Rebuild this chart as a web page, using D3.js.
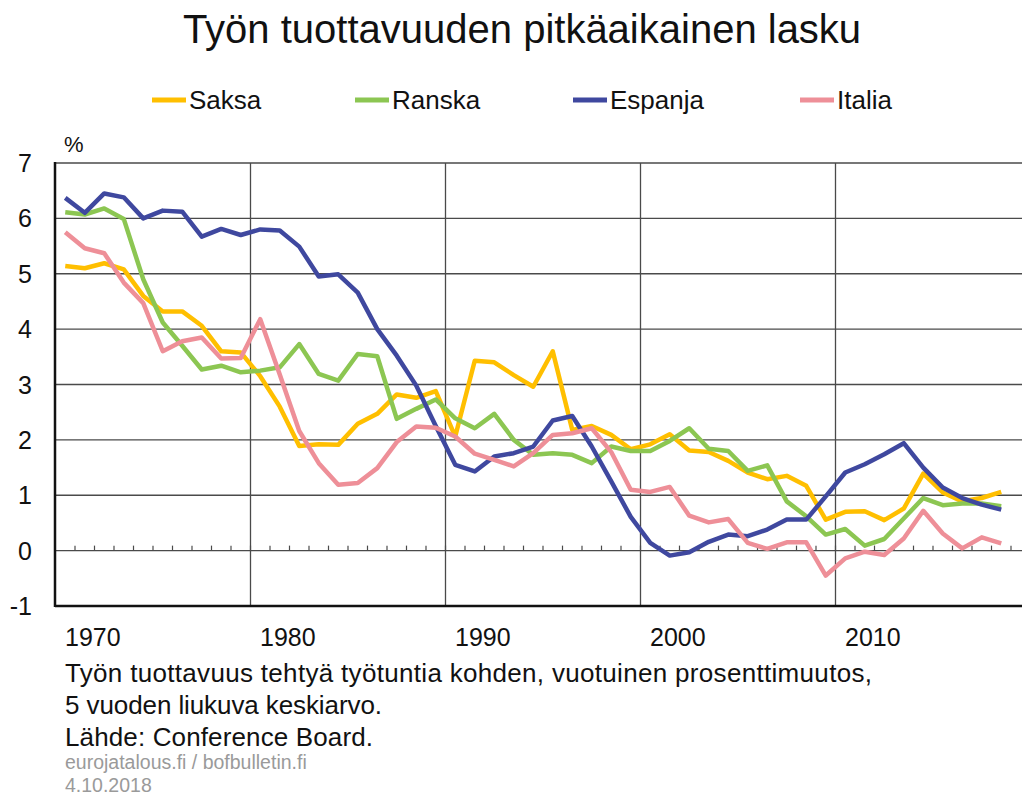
<!DOCTYPE html>
<html>
<head>
<meta charset="utf-8">
<script src="https://cdn.jsdelivr.net/npm/d3@7"></script>
<style>
  body { margin: 0; background: #fff; }
  svg { display: block; font-family: "Liberation Sans", Arial, sans-serif; }
</style>
</head>
<body>
<svg id="chart" width="1022" height="795"></svg>
<script>
// years 1970..2018, one value per year
let years = d3.range(1970, 2019);

let saksa = [5.14, 5.10, 5.19, 5.08, 4.60, 4.32, 4.32, 4.06, 3.60, 3.58,
             3.15, 2.60, 1.89, 1.92, 1.91, 2.29, 2.47, 2.82, 2.76, 2.88,
             2.06, 3.43, 3.40, 3.17, 2.96, 3.60, 2.18, 2.25, 2.09, 1.83,
             1.92, 2.10, 1.81, 1.78, 1.62, 1.41, 1.29, 1.35, 1.17, 0.56,
             0.70, 0.71, 0.55, 0.76, 1.39, 1.05, 0.89, 0.95, 1.06];

let ranska = [6.11, 6.07, 6.18, 5.99, 4.90, 4.12, 3.70, 3.27, 3.34, 3.22,
              3.25, 3.31, 3.73, 3.19, 3.07, 3.55, 3.51, 2.38, 2.56, 2.73,
              2.39, 2.21, 2.47, 2.00, 1.73, 1.76, 1.73, 1.58, 1.88, 1.80,
              1.80, 1.98, 2.21, 1.84, 1.80, 1.44, 1.54, 0.89, 0.62, 0.29,
              0.39, 0.09, 0.21, 0.58, 0.95, 0.82, 0.85, 0.85, 0.80];

let espanja = [6.37, 6.10, 6.45, 6.38, 6.00, 6.14, 6.12, 5.67, 5.81, 5.70,
               5.80, 5.78, 5.49, 4.95, 4.99, 4.66, 4.00, 3.52, 2.98, 2.25,
               1.55, 1.43, 1.70, 1.76, 1.88, 2.35, 2.43, 1.88, 1.25, 0.61,
               0.14, -0.09, -0.03, 0.16, 0.29, 0.26, 0.38, 0.56, 0.56, 0.98,
               1.41, 1.56, 1.74, 1.94, 1.50, 1.14, 0.95, 0.83, 0.74];

let italia = [5.75, 5.46, 5.37, 4.84, 4.47, 3.60, 3.78, 3.85, 3.47, 3.48,
              4.18, 3.18, 2.16, 1.58, 1.19, 1.22, 1.49, 1.96, 2.24, 2.22,
              2.06, 1.75, 1.64, 1.52, 1.76, 2.09, 2.12, 2.21, 1.78, 1.10,
              1.06, 1.15, 0.63, 0.51, 0.57, 0.14, 0.03, 0.15, 0.15, -0.45,
              -0.14, -0.02, -0.08, 0.22, 0.72, 0.31, 0.04, 0.24, 0.13];

let seriesNames = ["Saksa", "Ranska", "Espanja", "Italia"];
let seriesColors = ["#ffbf00", "#8cc652", "#3f489f", "#ee8f98"];
let seriesValues = [saksa, ranska, espanja, italia];

let yTicks = [-1, 0, 1, 2, 3, 4, 5, 6, 7];
let xLabels = [1970, 1980, 1990, 2000, 2010];

let noteLines = [
  "Työn tuottavuus tehtyä työtuntia kohden, vuotuinen prosenttimuutos,",
  "5 vuoden liukuva keskiarvo.",
  "Lähde: Conference Board."
];
let sourceLines = ["eurojatalous.fi / bofbulletin.fi", "4.10.2018"];

let svg = d3.select("#chart");

// scales: one band per year, axis runs one band past the data
let x = d3.scaleBand()
    .domain(d3.range(1970, 2020))
    .range([55.5, 55.5 + 50 * 19.5])
    .padding(0);
let y = d3.scaleLinear().domain([-1, 7]).range([606, 163]);
let xc = function(yr) { return x(yr) + x.bandwidth() / 2; };

// title
svg.append("text")
    .attr("x", 522).attr("y", 43)
    .attr("text-anchor", "middle")
    .attr("font-size", 40)
    .attr("fill", "#111")
    .text("Työn tuottavuuden pitkäaikainen lasku");

// legend
let legendX = [152, 355, 573, 800];
let legend = svg.append("g").selectAll("g")
    .data(seriesNames)
    .enter().append("g")
    .attr("transform", function(d, i) { return "translate(" + legendX[i] + ",100)"; });
legend.append("line")
    .attr("x1", 0).attr("x2", 34)
    .attr("stroke", function(d, i) { return seriesColors[i]; })
    .attr("stroke-width", 5);
legend.append("text")
    .attr("x", 37).attr("y", 9)
    .attr("font-size", 26)
    .attr("fill", "#111")
    .text(function(d) { return d; });

// grid
let grid = svg.append("g");
grid.selectAll(".hgrid")
    .data(yTicks.filter(function(d) { return d > -1; }))
    .enter().append("line")
    .attr("x1", 55).attr("x2", 1022)
    .attr("y1", function(d) { return y(d); })
    .attr("y2", function(d) { return y(d); })
    .attr("stroke", "#4a4a4a")
    .attr("stroke-width", 1.3);

grid.selectAll(".vgrid")
    .data([1980, 1990, 2000, 2010])
    .enter().append("line")
    .attr("x1", function(d) { return x(d); })
    .attr("x2", function(d) { return x(d); })
    .attr("y1", y(7)).attr("y2", y(-1))
    .attr("stroke", "#4a4a4a")
    .attr("stroke-width", 1.3);

// small year ticks on the zero line
grid.selectAll(".ytick")
    .data(d3.range(1971, 2020))
    .enter().append("line")
    .attr("x1", function(d) { return x(d); })
    .attr("x2", function(d) { return x(d); })
    .attr("y1", y(0) - 5).attr("y2", y(0))
    .attr("stroke", "#4a4a4a")
    .attr("stroke-width", 1.2);

// axes lines
svg.append("line")
    .attr("x1", 55).attr("x2", 1022)
    .attr("y1", y(-1)).attr("y2", y(-1))
    .attr("stroke", "#111").attr("stroke-width", 2.5);
svg.append("line")
    .attr("x1", 55).attr("x2", 55)
    .attr("y1", y(7) - 1).attr("y2", y(-1) + 1)
    .attr("stroke", "#111").attr("stroke-width", 2.5);

// y labels
svg.append("g").selectAll("text")
    .data(yTicks)
    .enter().append("text")
    .attr("x", 32)
    .attr("y", function(d) { return y(d) + 9; })
    .attr("text-anchor", "end")
    .attr("font-size", 25)
    .attr("fill", "#111")
    .text(function(d) { return d; });

svg.append("text")
    .attr("x", 64).attr("y", 152)
    .attr("font-size", 22)
    .attr("fill", "#111")
    .text("%");

// x labels
svg.append("g").selectAll("text")
    .data(xLabels)
    .enter().append("text")
    .attr("x", function(d) { return x(d) + 9.5; })
    .attr("y", 646)
    .attr("font-size", 25)
    .attr("fill", "#111")
    .text(function(d) { return d; });

// lines
let line = d3.line()
    .x(function(d, i) { return xc(years[i]); })
    .y(function(d) { return y(d); });

svg.append("g").selectAll("path")
    .data(seriesValues)
    .enter().append("path")
    .attr("d", line)
    .attr("fill", "none")
    .attr("stroke", function(d, i) { return seriesColors[i]; })
    .attr("stroke-width", 4.5)
    .attr("stroke-linejoin", "round");

// notes
let noteWidths = [807, 317, 308];
svg.append("g").selectAll("text")
    .data(noteLines)
    .enter().append("text")
    .attr("x", 65)
    .attr("y", function(d, i) { return 682 + i * 32; })
    .attr("font-size", 26)
    .attr("textLength", function(d, i) { return noteWidths[i]; })
    .attr("lengthAdjust", "spacing")
    .attr("fill", "#111")
    .text(function(d) { return d; });

svg.append("g").selectAll("text")
    .data(sourceLines)
    .enter().append("text")
    .attr("x", 65)
    .attr("y", function(d, i) { return 769 + i * 23; })
    .attr("font-size", 19.5)
    .attr("fill", "#9a9a9a")
    .text(function(d) { return d; });
</script>
</body>
</html>
